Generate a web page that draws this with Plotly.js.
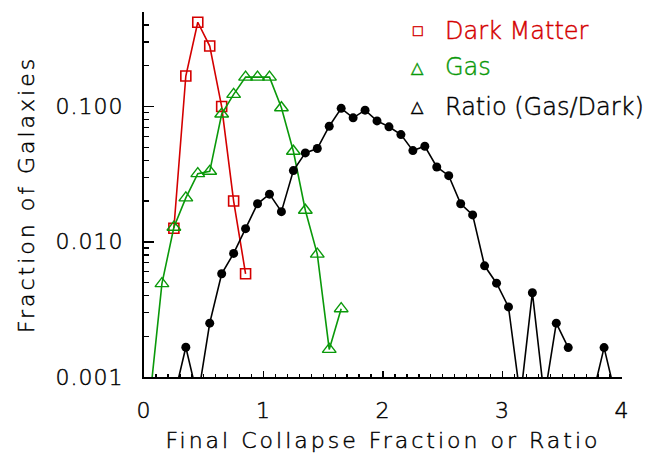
<!DOCTYPE html>
<html>
<head>
<meta charset="utf-8">
<script src="https://cdn.plot.ly/plotly-3.0.1.min.js"></script>
<style>
  html, body { margin: 0; padding: 0; background: #ffffff; }
  #chart { width: 668px; height: 455px; }
</style>
</head>
<body>
<div id="chart"></div>
<script>
// Distributions of final collapse fraction (bin centres, bin width 0.1)
const darkX = [0.25, 0.35, 0.45, 0.55, 0.65, 0.75, 0.85];
const darkY = [0.0126, 0.168, 0.42, 0.28, 0.10, 0.020, 0.0058];

const gasX = [0.05, 0.15, 0.25, 0.35, 0.45, 0.55, 0.65, 0.75, 0.85,
              0.95, 1.05, 1.15, 1.25, 1.35, 1.45, 1.55, 1.65];
const gasY = [0, 0.0049, 0.0128, 0.0211, 0.0319, 0.0332, 0.088, 0.123, 0.165,
              0.165, 0.165, 0.098, 0.0467, 0.0171, 0.0081, 0.0016, 0.0032];

const ratioX = [0.05, 0.15, 0.25, 0.35, 0.45, 0.55, 0.65, 0.75, 0.85, 0.95,
                1.05, 1.15, 1.25, 1.35, 1.45, 1.55, 1.65, 1.75, 1.85, 1.95,
                2.05, 2.15, 2.25, 2.35, 2.45, 2.55, 2.65, 2.75, 2.85, 2.95,
                3.05, 3.15, 3.25, 3.35, 3.45, 3.55, 3.65, 3.75, 3.85, 3.95];
const ratioY = [0, 0, 0, 0.00166, 0, 0.0025, 0.0058, 0.0082, 0.0125, 0.0191,
                0.0225, 0.0167, 0.0336, 0.0454, 0.0489, 0.0715, 0.097, 0.0825, 0.094, 0.0783,
                0.0708, 0.062, 0.0472, 0.0508, 0.0357, 0.0308, 0.0191, 0.0158, 0.00664, 0.00494,
                0.0033, 0, 0.0042, 0, 0.0025, 0.00165, null, 0, 0.00165, 0];

const yTickVals = [0.001, 0.01, 0.1];
const yTickText = ['0.001', '0.010', '0.100'];
const xTickVals = [0, 1, 2, 3, 4];

const legendNames = ['Dark Matter', 'Gas', 'Ratio (Gas/Dark)'];
const legendSymbols = ['\u25A1', '\u25B3', '\u25B3'];

// Empty bins sit below the log-axis floor, so their segments run off the bottom edge
const ZERO_FLOOR = 7e-4;
const onLog = v => (v === null ? null : (v > 0 ? v : ZERO_FLOOR));

const RED = '#d40000';
const GREEN = '#0a990a';
const BLACK = '#000000';
const FONT = 'DejaVu Sans, sans-serif';
const TEXT_WEIGHT = 200;

const Y_MAX = 0.5;

// minor ticks at 2..9 of each decade, up to the top of the axis
const yMinor = [];
for (let e = -3; e <= -1; e++) {
  for (let k = 2; k <= 9; k++) {
    const v = k * Math.pow(10, e);
    if (v <= Y_MAX + 1e-9) yMinor.push(v);
  }
}

const traces = [
  {
    x: darkX, y: darkY.map(onLog), type: 'scatter', mode: 'lines+markers',
    line: { color: RED, width: 1.6 },
    marker: { symbol: 'square-open', size: 10, color: RED, line: { color: RED, width: 1.6 } },
    cliponaxis: true, hoverinfo: 'x+y'
  },
  {
    x: gasX, y: gasY.map(onLog), type: 'scatter', mode: 'lines+markers',
    line: { color: GREEN, width: 1.6 },
    marker: { symbol: 'triangle-up-open', size: 12, color: GREEN, line: { color: GREEN, width: 1.4 } },
    cliponaxis: true, hoverinfo: 'x+y'
  },
  {
    x: ratioX, y: ratioY.map(onLog), type: 'scatter', mode: 'lines+markers',
    connectgaps: false,
    line: { color: BLACK, width: 1.6 },
    marker: { symbol: 'circle', size: 9, color: BLACK },
    cliponaxis: true, hoverinfo: 'x+y'
  }
];

const legendColors = [RED, GREEN, BLACK];
const legendY = [0.948, 0.848, 0.740];
const annotations = [];
legendNames.forEach((name, i) => {
  annotations.push({
    xref: 'paper', yref: 'paper', x: 0.573, y: legendY[i],
    xanchor: 'center', yanchor: 'middle', showarrow: false,
    text: legendSymbols[i],
    font: { family: FONT, size: 16, color: legendColors[i] }
  });
  annotations.push({
    xref: 'paper', yref: 'paper', x: 0.626, y: legendY[i],
    xanchor: 'left', yanchor: 'middle', showarrow: false,
    text: name,
    font: { family: FONT, size: 24, color: legendColors[i], weight: TEXT_WEIGHT }
  });
});

const titleFont = { family: FONT, size: 22, color: '#000', weight: TEXT_WEIGHT };

const layout = {
  width: 668, height: 455,
  margin: { l: 144, r: 46, t: 12, b: 78, pad: 0 },
  paper_bgcolor: '#ffffff', plot_bgcolor: '#ffffff',
  showlegend: false,
  font: { family: FONT, size: 22, color: '#000000', weight: TEXT_WEIGHT },
  xaxis: {
    range: [0, 4],
    tickmode: 'array', tickvals: xTickVals, ticktext: xTickVals.map(String),
    ticks: 'inside', ticklen: 6, tickwidth: 1.5, tickcolor: '#000',
    ticklabelstandoff: 13,
    minor: { dtick: 0.1, ticks: 'inside', ticklen: 3, tickwidth: 1.3, tickcolor: '#000', showgrid: false },
    showline: true, linecolor: '#000', linewidth: 2, mirror: false,
    showgrid: false, zeroline: false,
    tickfont: { family: FONT, size: 22, color: '#000', weight: TEXT_WEIGHT },
    title: { text: 'Final Collapse Fraction or Ratio', standoff: 10, font: titleFont }
  },
  yaxis: {
    type: 'log',
    range: [-3, Math.log10(Y_MAX)],
    tickmode: 'array', tickvals: yTickVals, ticktext: yTickText,
    ticks: 'inside', ticklen: 10, tickwidth: 1.6, tickcolor: '#000',
    ticklabelstandoff: 14,
    minor: { tickmode: 'array', tickvals: yMinor, ticks: 'inside', ticklen: 5, tickwidth: 1.3, tickcolor: '#000', showgrid: false },
    showline: true, linecolor: '#000', linewidth: 2, mirror: false,
    showgrid: false, zeroline: false,
    tickfont: { family: FONT, size: 22, color: '#000', weight: TEXT_WEIGHT },
    title: { text: 'Fraction of Galaxies', standoff: 20, font: titleFont }
  },
  annotations: annotations
};

Plotly.newPlot('chart', traces, layout, { displayModeBar: false, staticPlot: true }).then(gd => {
  // widen the lettering of the axis titles and tick labels
  gd.querySelectorAll('.xtitle, .ytitle').forEach(t => { t.style.letterSpacing = '3px'; });
  gd.querySelectorAll('.xtick text, .ytick text').forEach(t => { t.style.letterSpacing = '1px'; });
  // give the light face a slightly firmer stroke in its own colour
  gd.querySelectorAll('.xtitle, .ytitle, .xtick text, .ytick text, .annotation-text').forEach(t => {
    const fill = t.style.fill || window.getComputedStyle(t).fill;
    t.style.stroke = fill;
    t.style.strokeWidth = '0.45px';
  });
});
</script>
</body>
</html>
